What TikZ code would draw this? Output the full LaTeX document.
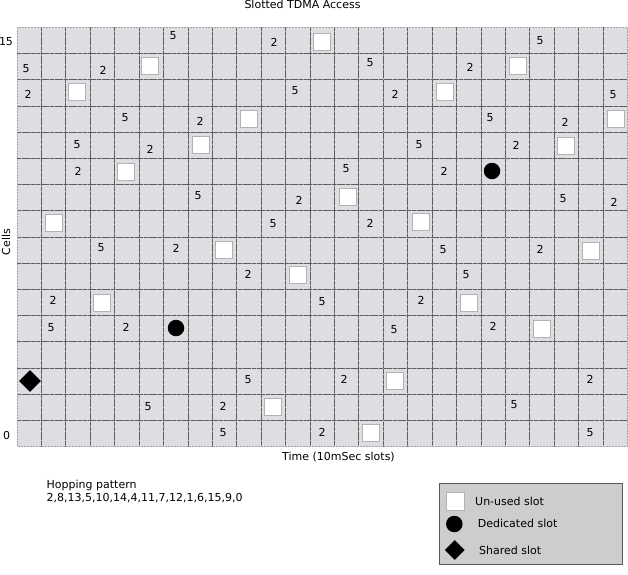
\documentclass[tikz,border=0pt]{standalone}
\usepackage{fontspec}
\setmainfont{DejaVu Sans}
\usetikzlibrary{shapes.geometric}
\definecolor{gridfill}{HTML}{DCDEE2}
\definecolor{legfill}{HTML}{CDCDCD}
\definecolor{gline}{HTML}{5E5E5E}
\begin{document}
\begin{tikzpicture}[x=1pt,y=-1pt,
  txt/.style={inner sep=0pt, font=\fontsize{11}{13}\selectfont},
  gridline/.style={draw=gray!65, line width=0.8pt},
  griddash/.style={draw=gline, line width=0.8pt, dash pattern=on 4pt off 0.7pt},
  borderline/.style={draw=gray!70, line width=0.9pt, dash pattern=on 2pt off 1pt},
  unused/.style={rectangle, draw=gray!60, line width=0.6pt, fill=white, minimum size=17.5pt, inner sep=0pt},
  dedicated/.style={circle, fill=black, minimum size=16.5pt, inner sep=0pt},
  shared/.style={diamond, fill=black, minimum size=22pt, inner sep=0pt},
  legendbox/.style={draw=gray!70!black, line width=0.7pt, fill=legfill}]
\useasboundingbox (0,0) rectangle (628,574);
% grid background
\fill[gridfill] (17,27.3) rectangle (627.5,446.5);
\foreach \i in {1,...,24} {
  \draw[gridline] ({17+\i*24.42},27.3) -- ({17+\i*24.42},446.5);
  \draw[griddash] ({17+\i*24.42},27.3) -- ({17+\i*24.42},446.5);
}
\foreach \j in {1,...,15} {
  \draw[gridline] (17,{27.3+\j*26.2}) -- (627.5,{27.3+\j*26.2});
  \draw[griddash] (17,{27.3+\j*26.2}) -- (627.5,{27.3+\j*26.2});
}
\draw[borderline] (17,27.3) rectangle (627.5,446.5);
% fives
\foreach \x/\y [count=\k] in {173/36,26/69,370/63,295/91,613/95,125/118,490/118,77/145,419/145,346/169,198/196,563/199,273/224,101/248,443/250,466/275,322/302,51/328,394/330,248/380,148/407,514/405,223/433,540/41,590/433}
  \node[txt] (five\k) at (\x,\y) {5};
% twos
\foreach \x/\y [count=\k] in {274/42,103/70,470/67,28/94,395/94,200/121,565/122,150/149,516/145,78/171,444/171,299/200,614/202,370/223,176/248,540/249,248/274,53/300,421/300,126/327,493/326,344/379,590/379,223/406,322/432}
  \node[txt] (two\k) at (\x,\y) {2};
% unused slots
\foreach \x/\y [count=\k] in {322/42,150/66,518/66,77/92,445/92,249/119,616/119,201/145,566/146,126/172,348/197,54/223,421/222,224/250,591/251,298/275,102/303,469/303,542/329,395/381,273/407,371/433}
  \node[unused] (sq\k) at (\x,\y) {};
% dedicated slots
\node[dedicated] (ded1) at (492,171) {};
\node[dedicated] (ded2) at (176,328) {};
% shared slot
\node[shared] (shr1) at (30,381) {};
% axis labels
\node[txt, anchor=base] (title) at (302.5,8.7) {Slotted TDMA Access};
\node[txt, anchor=base] (y15) at (6,45) {15};
\node[txt, anchor=base] (y0) at (6.7,439) {0};
\node[txt, rotate=90] (cells) at (6,242) {Cells};
\node[txt, anchor=base] (time) at (338.5,460.5) {Time (10mSec slots)};
% hopping pattern
\node[txt, anchor=base west] (hop1) at (46.5,488) {Hopping pattern};
\node[txt, anchor=base west] (hop2) at (46.5,501.5) {2,8,13,5,10,14,4,11,7,12,1,6,15,9,0};
% legend
\draw[legendbox] (439,483.3) rectangle (622.3,564);
\node[unused, minimum size=18pt] (lsq) at (455.7,501) {};
\node[txt, anchor=base west] (lsqt) at (475,505.5) {Un-used slot};
\node[dedicated] (lcir) at (454.3,524) {};
\node[txt, anchor=base west] (lcirt) at (477.7,527.3) {Dedicated slot};
\node[shared, minimum size=20pt] (ldia) at (454.7,550) {};
\node[txt, anchor=base west] (ldiat) at (479,554) {Shared slot};
\end{tikzpicture}
\end{document}
